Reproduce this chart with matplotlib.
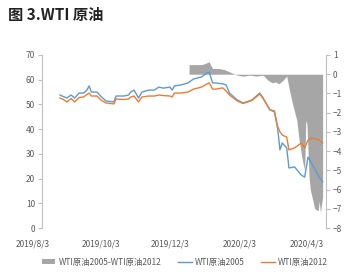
import pandas as pd
import matplotlib
matplotlib.use('Agg')
import matplotlib.pyplot as plt
import matplotlib.dates as mdates
from matplotlib.transforms import blended_transform_factory

plt.rcParams['font.family'] = ['Noto Sans CJK SC', 'DejaVu Sans']

# WTI 2005 / 2012 contract prices (left axis)
line_dates = ['2019-08-27', '2019-08-30', '2019-09-02', '2019-09-06', '2019-09-09',
              '2019-09-13', '2019-09-17', '2019-09-20', '2019-09-22', '2019-09-24',
              '2019-09-29', '2019-10-03', '2019-10-07', '2019-10-14', '2019-10-16',
              '2019-10-23', '2019-10-27', '2019-10-29', '2019-11-01', '2019-11-05',
              '2019-11-08', '2019-11-14', '2019-11-19', '2019-11-23', '2019-11-27',
              '2019-12-03', '2019-12-05', '2019-12-07', '2019-12-13', '2019-12-19',
              '2019-12-24', '2019-12-31', '2020-01-05', '2020-01-07', '2020-01-10',
              '2020-01-13', '2020-01-19', '2020-01-22', '2020-01-25', '2020-02-01',
              '2020-02-06', '2020-02-09', '2020-02-14', '2020-02-21', '2020-02-24',
              '2020-03-01', '2020-03-05', '2020-03-08', '2020-03-10', '2020-03-12',
              '2020-03-16', '2020-03-18', '2020-03-23', '2020-03-29', '2020-04-01',
              '2020-04-04', '2020-04-08', '2020-04-14', '2020-04-17']
wti_2005 = [53.8, 53.2, 52.6, 53.8, 52.6, 54.6, 54.6, 55.8, 57.5, 55.0,
            55.0, 53.0, 51.4, 51.0, 53.4, 53.4, 53.8, 55.0, 55.8, 52.6,
            55.0, 55.8, 55.8, 57.0, 56.6, 57.0, 55.8, 57.5, 57.9, 58.7,
            60.3, 61.1, 62.7, 63.0, 58.7, 58.7, 58.3, 57.9, 54.6, 51.8,
            50.6, 51.0, 51.8, 54.6, 52.6, 47.8, 47.0, 40.0, 31.6, 34.4,
            32.4, 24.3, 24.7, 21.4, 20.6, 28.7, 25.5, 20.6, 18.6]
wti_2012 = [52.6, 52.0, 51.0, 52.4, 51.0, 52.8, 53.0, 54.0, 54.6, 53.4,
            53.4, 51.6, 50.6, 50.2, 52.2, 52.0, 52.2, 53.0, 53.4, 51.0,
            53.0, 53.4, 53.4, 53.8, 53.6, 53.4, 53.0, 54.6, 54.6, 55.0,
            56.2, 57.0, 58.3, 58.7, 56.2, 56.2, 56.7, 55.4, 53.8, 51.4,
            50.4, 50.8, 51.6, 54.2, 52.4, 47.8, 47.4, 41.0, 38.9, 37.6,
            36.8, 31.6, 32.4, 34.4, 32.4, 35.6, 36.4, 35.6, 34.4]

# spread 2005-2012 (right axis)
spread_dates = ['2019-12-20', '2019-12-31', '2020-01-03', '2020-01-07', '2020-01-08',
                '2020-01-10', '2020-01-15', '2020-01-20', '2020-01-24', '2020-01-28',
                '2020-02-01', '2020-02-06', '2020-02-12', '2020-02-18', '2020-02-24',
                '2020-02-28', '2020-03-03', '2020-03-06', '2020-03-09', '2020-03-13',
                '2020-03-16', '2020-03-18', '2020-03-21', '2020-03-25', '2020-03-27',
                '2020-03-30', '2020-04-01', '2020-04-02', '2020-04-03', '2020-04-05',
                '2020-04-06', '2020-04-08', '2020-04-10', '2020-04-13', '2020-04-14',
                '2020-04-15', '2020-04-16', '2020-04-17']
spread = [0.5, 0.5, 0.55, 0.65, 0.5, 0.3, 0.3, 0.25, 0.15, 0.05,
          -0.05, -0.1, -0.05, -0.1, -0.05, -0.3, -0.45, -0.4, -0.5, -0.3,
          -0.1, -0.7, -1.5, -2.4, -3.4, -4.5, -5.0, -2.4, -2.6, -5.4,
          -6.0, -6.5, -7.0, -7.1, -6.6, -7.2, -6.8, -6.4]

tick_dates = ['2019-08-03', '2019-10-03', '2019-12-03', '2020-02-03', '2020-04-03']
tick_labels = ['2019/8/3', '2019/10/3', '2019/12/3', '2020/2/3', '2020/4/3']

GREY = '#a6a6a6'
BLUE = '#5b9bd5'
ORANGE = '#ed7d31'
TXT = '#595959'

fig = plt.figure(figsize=(3.63, 2.75), dpi=100)
ax = fig.add_axes([42 / 363, 1 - 228 / 275, 284 / 363, 173 / 275])
ax2 = ax.twinx()

d_line = pd.to_datetime(line_dates)
d_spread = pd.to_datetime(spread_dates)

ax2.fill_between(d_spread, 0, spread, color=GREY, linewidth=0,
                 label='WTI原油2005-WTI原油2012')
ax.plot(d_line, wti_2005, color=BLUE, linewidth=1, label='WTI原油2005')
ax.plot(d_line, wti_2012, color=ORANGE, linewidth=1, label='WTI原油2012')

# lines above the area
ax.set_zorder(ax2.get_zorder() + 1)
ax.patch.set_visible(False)

ax.set_xlim(pd.Timestamp('2019-08-11'), pd.Timestamp('2020-04-20'))
ax.set_ylim(0, 70)
ax.set_yticks(range(0, 71, 10))
ax2.set_ylim(-8, 1)
ax2.set_yticks(range(-8, 2))

for a in (ax, ax2):
    for s in ('top', 'bottom', 'left', 'right'):
        a.spines[s].set_visible(False)
ax.spines['left'].set_visible(True)
ax.spines['left'].set_color('#bfbfbf')
ax.spines['left'].set_linewidth(0.8)
ax2.spines['right'].set_visible(True)
ax2.spines['right'].set_color('#bfbfbf')
ax2.spines['right'].set_linewidth(0.8)

ax.set_xticks([])
ax.tick_params(axis='y', labelsize=6, colors='#bfbfbf', labelcolor=TXT,
               length=3, width=0.8, pad=2)
ax2.tick_params(axis='y', labelsize=6, colors='#bfbfbf', labelcolor=TXT,
                length=3, width=0.8, pad=2)

# date labels (first one sits left of the plot area)
trans = blended_transform_factory(ax.transData, ax.transAxes)
for d, lab in zip(tick_dates, tick_labels):
    ax.text(mdates.date2num(pd.Timestamp(d)), -0.092, lab, transform=trans,
            ha='center', va='center', fontsize=6, color=TXT, clip_on=False)

fig.text(8 / 363, 1 - 15 / 275, '图 3.WTI 原油', fontsize=11, fontweight='bold',
         ha='left', va='center', color='#222222')

h1, l1 = ax2.get_legend_handles_labels()
h2, l2 = ax.get_legend_handles_labels()
fig.legend(h1 + h2, l1 + l2, loc='center', bbox_to_anchor=(0.51, 1 - 262 / 275),
           ncol=3, frameon=False, fontsize=6, labelcolor=TXT, handlelength=1.6,
           handleheight=0.6, columnspacing=2.0, handletextpad=0.4)

fig.savefig('out.png', dpi=100)
